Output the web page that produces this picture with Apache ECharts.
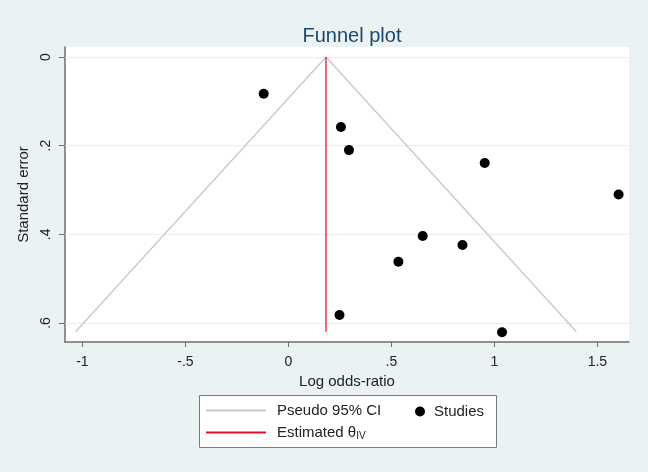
<!DOCTYPE html>
<html>
<head>
<meta charset="utf-8">
<script src="https://cdn.jsdelivr.net/npm/echarts@6/dist/echarts.min.js"></script>
<style>
  html, body { margin: 0; padding: 0; background: #eaf2f3; }
  #chart { width: 648px; height: 472px; }
</style>
</head>
<body>
<div id="chart"></div>
<script>
// studies: log odds-ratio and standard error
var study_lor = [-0.120, 0.255, 0.294, 0.953, 1.603, 0.652, 0.845, 0.534, 0.248, 1.037];
var study_se  = [0.083, 0.158, 0.210, 0.239, 0.310, 0.404, 0.424, 0.462, 0.582, 0.621];

// pseudo 95% CI funnel (left end, apex, right end)
var funnel_x = [-1.033, 0.1825, 1.398];
var funnel_y = [0.620, 0, 0.620];

// estimated theta (IV)
var theta_x = [0.1825, 0.1825];
var theta_y = [0, 0.620];

var x_ticks = [-1, -0.5, 0, 0.5, 1, 1.5];
var y_ticks = [0, 0.2, 0.4, 0.6];

function stataNum(v) {
    var s = String(Math.round(v * 100) / 100);
    return s.replace(/^0\./, '.').replace(/^-0\./, '-.');
}

function pairs(xs, ys) {
    var out = [];
    for (var i = 0; i < xs.length; i++) {
        out.push([xs[i], ys[i]]);
    }
    return out;
}

var chartDom = document.getElementById('chart');
var myChart = echarts.init(chartDom);
var font = '"Liberation Sans", Arial, sans-serif';
var option = {
    backgroundColor: '#eaf2f3',
    animation: false,
    title: {
        text: 'Funnel plot',
        left: 347,
        top: 21,
        textAlign: 'center',
        textStyle: {
            color: '#1a476f',
            fontSize: 20,
            fontWeight: 'normal',
            fontFamily: font
        }
    },
    grid: {
        left: 65,
        right: 19,
        top: 47,
        bottom: 130,
        show: true,
        backgroundColor: '#ffffff',
        borderWidth: 0
    },
    legend: [{
        data: [
            { name: 'Pseudo 95% CI', icon: 'rect' },
            { name: 'Estimated θIV', icon: 'rect' }
        ],
        orient: 'vertical',
        left: 201,
        top: 398,
        itemWidth: 60,
        itemHeight: 2,
        itemGap: 7,
        textStyle: {
            color: '#222',
            fontSize: 15,
            fontFamily: font,
            padding: [0, 0, 0, 6],
            rich: {
                a: { fontSize: 15, fontFamily: font, color: '#222' },
                s: { fontSize: 10, fontFamily: font, color: '#222', verticalAlign: 'bottom', padding: [8, 0, 0, 0] }
            }
        },
        formatter: function (name) {
            if (name === 'Estimated θIV') {
                return '{a|Estimated θ}{s|IV}';
            }
            return name;
        }
    }, {
        data: ['Studies'],
        left: 410,
        top: 399,
        itemWidth: 10,
        itemHeight: 10,
        itemGap: 6,
        textStyle: {
            color: '#222',
            fontSize: 15,
            fontFamily: font,
            padding: [0, 0, 0, 4]
        }
    }],
    graphic: [{
        type: 'rect',
        left: 199,
        top: 395,
        shape: { width: 297, height: 52 },
        style: { fill: '#ffffff', stroke: '#7a7a7a', lineWidth: 1 },
        z: -1
    }],
    xAxis: {
        type: 'value',
        min: -1.0845,
        max: 1.6534,
        name: 'Log odds-ratio',
        nameLocation: 'middle',
        nameGap: 26,
        nameTextStyle: { color: '#222', fontSize: 15, fontFamily: font },
        axisLine: { show: true, onZero: false, lineStyle: { color: '#6e6e6e', width: 1.5 } },
        axisTick: { show: true, length: 5, customValues: x_ticks, lineStyle: { color: '#6e6e6e' } },
        axisLabel: {
            customValues: x_ticks,
            margin: 13,
            color: '#222',
            fontSize: 14,
            fontFamily: font,
            formatter: function (v) { return stataNum(v); }
        },
        splitLine: { show: false }
    },
    yAxis: {
        type: 'value',
        inverse: true,
        min: -0.0226,
        max: 0.643,
        name: 'Standard error',
        nameLocation: 'middle',
        nameGap: 30,
        nameTextStyle: { color: '#222', fontSize: 15, fontFamily: font },
        axisLine: { show: true, onZero: false, lineStyle: { color: '#6e6e6e', width: 1.5 } },
        axisTick: { show: true, length: 6, customValues: y_ticks, lineStyle: { color: '#6e6e6e' } },
        axisLabel: {
            customValues: y_ticks,
            rotate: 90,
            margin: 12,
            color: '#222',
            fontSize: 14,
            fontFamily: font,
            formatter: function (v) { return stataNum(v); }
        },
        splitLine: { show: false }
    },
    series: [{
        name: 'gridlines',
        type: 'line',
        data: [],
        silent: true,
        z: 1,
        markLine: {
            silent: true,
            z: 1,
            symbol: 'none',
            label: { show: false },
            lineStyle: { color: '#e6eff2', width: 1, type: 'solid' },
            data: y_ticks.map(function (v) { return { yAxis: v }; })
        }
    }, {
        name: 'Pseudo 95% CI',
        type: 'line',
        data: pairs(funnel_x, funnel_y),
        showSymbol: false,
        symbol: 'none',
        lineStyle: { color: '#c8c8c8', width: 1.3 },
        itemStyle: { color: '#c8c8c8' },
        z: 2
    }, {
        name: 'Studies',
        type: 'scatter',
        data: pairs(study_lor, study_se),
        symbol: 'circle',
        symbolSize: 10,
        itemStyle: { color: '#000000', opacity: 1 },
        z: 4
    }, {
        name: 'Estimated θIV',
        type: 'line',
        data: pairs(theta_x, theta_y),
        showSymbol: false,
        symbol: 'none',
        lineStyle: { color: '#e8102e', width: 1.3 },
        itemStyle: { color: '#e8102e' },
        z: 3
    }]
};
option && myChart.setOption(option);
</script>
</body>
</html>
